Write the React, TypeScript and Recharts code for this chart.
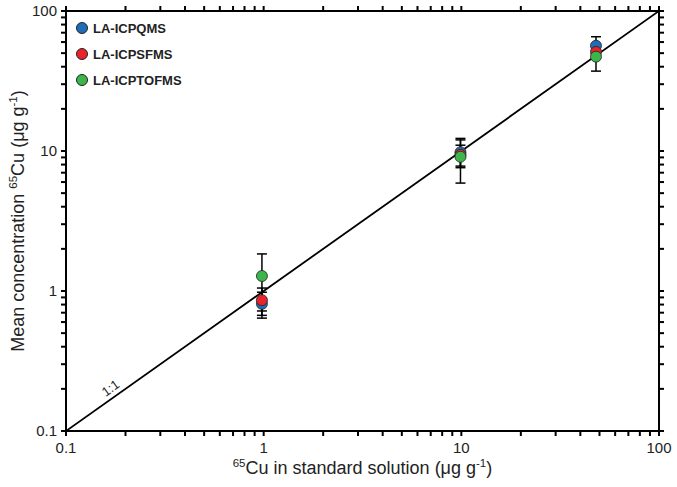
import React from "react"
import { ScatterChart, Scatter, XAxis, YAxis, ErrorBar, ReferenceLine, ReferenceDot, Legend, Label } from "recharts"

// 65Cu in standard solution (x) vs mean measured concentration (y), µg/g
const STANDARD = [0.98, 9.9, 48]
const QMS = [0.81, 9.8, 56.5]
const QMS_ERR = [0.17, 2.2, 9]
const SFMS = [0.86, 9.4, 51]
const SFMS_ERR = [0.19, 1.6, 5]
const TOFMS = [1.28, 9.1, 47.2]
const TOFMS_ERR = [0.56, 3.2, 10]

const MAJOR_TICKS = [0.1, 1, 10, 100]
const MINOR_TICKS = [
  0.2, 0.3, 0.4, 0.5, 0.6, 0.7, 0.8, 0.9,
  2, 3, 4, 5, 6, 7, 8, 9,
  20, 30, 40, 50, 60, 70, 80, 90,
]
const ALL_TICKS = [...MAJOR_TICKS, ...MINOR_TICKS].sort((a, b) => a - b)
const DOMAIN: [number, number] = [0.1, 100]
// tick mark length expressed as a factor beyond the domain edge (log axes)
const TICK_X_FACTOR = 1.06
const TICK_Y_FACTOR = 1.086

const ONE_TO_ONE = [
  { x: 0.1, y: 0.1 },
  { x: 100, y: 100 },
]
const ONE_TO_ONE_LABEL = { x: 0.169, y: 0.2, text: "1:1" }

const SERIES = [
  { name: "LA-ICPQMS", color: "#1f6db5", values: QMS, errors: QMS_ERR },
  { name: "LA-ICPSFMS", color: "#e8232b", values: SFMS, errors: SFMS_ERR },
  { name: "LA-ICPTOFMS", color: "#3cb64a", values: TOFMS, errors: TOFMS_ERR },
]

const FONT = '"Liberation Sans", Arial, sans-serif'
const TEXT = "#222"

const rows = (values: number[], errors: number[]) =>
  STANDARD.map((x, i) => ({ x, y: values[i], err: errors[i] }))

const fmt = (v: number) => (v < 1 ? v.toFixed(1) : String(v))

// decade labels only; the tick marks are reference segments below
const AxisTick = (props: any) => {
  const { x, y, payload, side } = props
  const v = Number(payload?.value)
  const major = MAJOR_TICKS.some((m) => Math.abs(m - v) < 1e-9)
  const nx = Number(x)
  const ny = Number(y)
  if (!major) return <g />
  if (side === "bottom")
    return (
      <text x={nx} y={ny + 22} textAnchor="middle" fontSize={15} fontFamily={FONT} fill={TEXT}>
        {fmt(v)}
      </text>
    )
  return (
    <text x={nx - 9} y={ny + 5} textAnchor="end" fontSize={15} fontFamily={FONT} fill={TEXT}>
      {fmt(v)}
    </text>
  )
}

const XTitle = ({ viewBox }: any) => {
  const cx = viewBox.x + viewBox.width / 2
  return (
    <text x={cx} y={viewBox.y + 43} textAnchor="middle" fontSize={18} fontFamily={FONT} fill={TEXT}>
      <tspan fontSize={11.5} dy={-7}>65</tspan>
      <tspan dy={7}>Cu in standard solution (μg g</tspan>
      <tspan fontSize={11.5} dy={-7}>-1</tspan>
      <tspan dy={7}>)</tspan>
    </text>
  )
}

const YTitle = ({ viewBox }: any) => {
  const x = 24
  const cy = viewBox.y + viewBox.height / 2
  return (
    <text
      x={x}
      y={cy}
      transform={`rotate(-90 ${x} ${cy})`}
      textAnchor="middle"
      fontSize={18}
      fontFamily={FONT}
      fill={TEXT}
    >
      <tspan>Mean concentration </tspan>
      <tspan fontSize={11.5} dy={-7}>65</tspan>
      <tspan dy={7}>Cu (μg g</tspan>
      <tspan fontSize={11.5} dy={-7}>-1</tspan>
      <tspan dy={7}>)</tspan>
    </text>
  )
}

const LegendBox = () => (
  <div style={{ fontFamily: FONT }}>
    {SERIES.map((s) => (
      <div key={s.name} style={{ display: "flex", alignItems: "center", height: 26 }}>
        <span
          style={{
            display: "inline-block",
            width: 10,
            height: 10,
            borderRadius: "50%",
            background: s.color,
            border: "1px solid #222",
            marginRight: 5,
          }}
        />
        <span style={{ fontSize: 13, fontWeight: 700, color: TEXT }}>{s.name}</span>
      </div>
    ))}
  </div>
)

const Dot = (color: string) => (p: any) => (
  <circle cx={p.cx} cy={p.cy} r={5.5} fill={color} stroke="#222" strokeWidth={0.8} />
)

export default function App() {
  const axisLine = { stroke: "#000", strokeWidth: 2 }
  const common = {
    type: "number" as const,
    scale: "log" as const,
    domain: DOMAIN,
    ticks: ALL_TICKS,
    interval: 0 as const,
    allowDataOverflow: true,
    axisLine,
    tickLine: false,
    tickSize: 0,
    tickMargin: 0,
    minTickGap: 0,
  }
  const [lo, hi] = DOMAIN
  const tickSegs = [
    ...ALL_TICKS.map((t) => [{ x: t, y: lo }, { x: t, y: lo / TICK_Y_FACTOR }]),
    ...ALL_TICKS.map((t) => [{ x: t, y: hi }, { x: t, y: hi * TICK_Y_FACTOR }]),
    ...ALL_TICKS.map((t) => [{ x: lo, y: t }, { x: lo / TICK_X_FACTOR, y: t }]),
    ...ALL_TICKS.map((t) => [{ x: hi, y: t }, { x: hi * TICK_X_FACTOR, y: t }]),
  ]
  const frame = [
    [{ x: lo, y: hi }, { x: hi, y: hi }],
    [{ x: hi, y: lo }, { x: hi, y: hi }],
  ]
  return (
    <div style={{ position: "absolute", left: 0, top: 0, width: 677, height: 487, background: "#fff", fontFamily: FONT }}>
      <ScatterChart width={677} height={487} margin={{ top: 11, right: 18, bottom: 0, left: 0 }}>
        <XAxis dataKey="x" {...common} height={56} tick={(p: any) => <AxisTick {...p} side="bottom" />}>
          <Label content={<XTitle />} />
        </XAxis>
        <YAxis dataKey="y" {...common} width={66} tick={(p: any) => <AxisTick {...p} side="left" />}>
          <Label content={<YTitle />} />
        </YAxis>

        {frame.map((seg, i) => (
          <ReferenceLine key={`f${i}`} segment={seg} stroke="#000" strokeWidth={2} ifOverflow="visible" />
        ))}
        {tickSegs.map((seg, i) => (
          <ReferenceLine key={`t${i}`} segment={seg} stroke="#000" strokeWidth={2} ifOverflow="visible" />
        ))}

        <ReferenceLine segment={ONE_TO_ONE} stroke="#000" strokeWidth={1.8} ifOverflow="hidden" />
        <ReferenceDot
          x={ONE_TO_ONE_LABEL.x}
          y={ONE_TO_ONE_LABEL.y}
          shape={(p: any) => (
            <text
              x={p.cx}
              y={p.cy}
              transform={`rotate(-35.3 ${p.cx} ${p.cy})`}
              textAnchor="middle"
              dominantBaseline="middle"
              fontSize={13}
              fontFamily={FONT}
              fill={TEXT}
            >
              {ONE_TO_ONE_LABEL.text}
            </text>
          )}
        />

        <Legend
          layout="vertical"
          align="center"
          verticalAlign="middle"
          wrapperStyle={{ left: 76, top: 15, width: "auto" }}
          content={<LegendBox />}
        />

        {SERIES.map((s) => (
          <Scatter
            key={s.name}
            name={s.name}
            data={rows(s.values, s.errors)}
            fill={s.color}
            shape={Dot(s.color)}
            isAnimationActive={false}
          >
            <ErrorBar dataKey="err" direction="y" width={5} stroke="#000" strokeWidth={1.5} />
          </Scatter>
        ))}
      </ScatterChart>
    </div>
  )
}
